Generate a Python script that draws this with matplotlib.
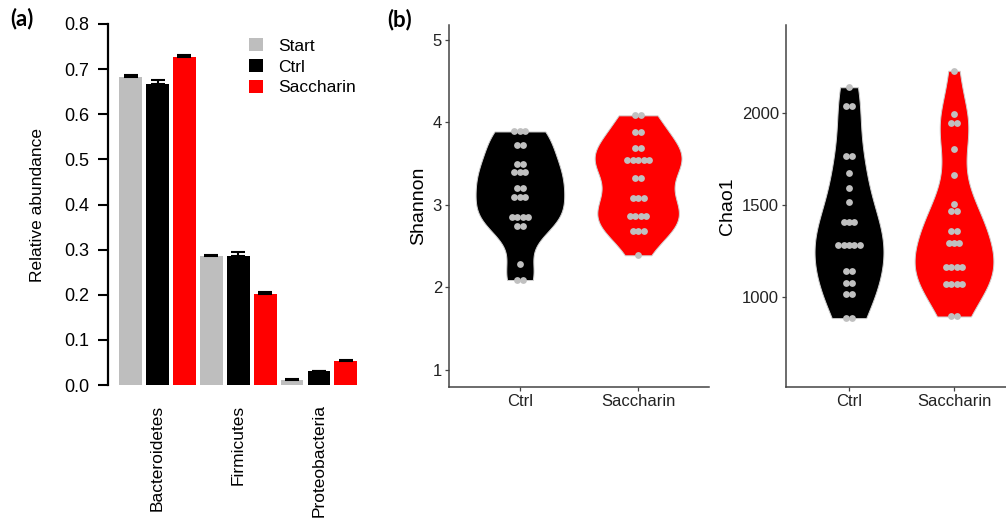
import numpy as np
import matplotlib
matplotlib.use('Agg')
import matplotlib.pyplot as plt

plt.rcParams['font.family'] = ['Liberation Sans', 'DejaVu Sans']

# (a) relative abundance of phyla
phyla = ['Bacteroidetes', 'Firmicutes', 'Proteobacteria']
groups = ['Start', 'Ctrl', 'Saccharin']
start_mean = [0.683, 0.286, 0.011]
start_err = [0.003, 0.003, 0.0015]
ctrl_mean = [0.668, 0.286, 0.030]
ctrl_err = [0.007, 0.008, 0.002]
sacch_mean = [0.727, 0.201, 0.054]
sacch_err = [0.005, 0.005, 0.002]
bar_colors = ['#bebebe', '#000000', '#ff0000']

# (b) alpha diversity, one value per dot
shannon_ctrl = [3.89, 3.89, 3.89, 3.73, 3.73, 3.50, 3.50, 3.40, 3.40, 3.40,
                3.21, 3.21, 3.10, 3.10, 3.10, 2.85, 2.85, 2.85, 2.85,
                2.75, 2.75, 2.29, 2.09, 2.09]
shannon_sacch = [4.085, 4.085, 3.88, 3.88, 3.685, 3.685,
                 3.55, 3.55, 3.55, 3.55, 3.55, 3.33, 3.33,
                 3.08, 3.08, 3.08, 2.86, 2.86, 2.86, 2.86,
                 2.69, 2.69, 2.69, 2.39]
chao_ctrl = [2142, 2042, 2042, 1769, 1769, 1673, 1596, 1518,
             1411, 1411, 1411, 1283, 1283, 1283, 1283, 1283,
             1142, 1142, 1078, 1078, 1016, 1016, 885, 885]
chao_sacch = [2232, 1996, 1945, 1945, 1804, 1662, 1509, 1469, 1469,
              1360, 1360, 1296, 1296, 1296, 1163, 1163, 1163, 1163,
              1073, 1073, 1073, 1073, 894, 894]
treatments = ['Ctrl', 'Saccharin']
violin_colors = ['#000000', '#ff0000']


def kde(vals):
    # gaussian density, bandwidth like R's bw.nrd0, trimmed to data range
    v = np.asarray(vals, float)
    n = len(v)
    sd = v.std(ddof=1)
    q75, q25 = np.percentile(v, [75, 25])
    bw = 0.9 * min(sd, (q75 - q25) / 1.34) * n ** -0.2
    y = np.linspace(v.min(), v.max(), 300)
    d = np.exp(-0.5 * ((y[:, None] - v[None, :]) / bw) ** 2).sum(1) / (n * bw * np.sqrt(2 * np.pi))
    return y, d


def dot_offsets(vals, step):
    v = np.asarray(vals, float)
    xs = np.zeros(len(v))
    for u in np.unique(v):
        idx = np.where(v == u)[0]
        k = len(idx)
        xs[idx] = (np.arange(k) - (k - 1) / 2) * step
    return xs


def violin_panel(ax, data, step, ylim, yticks, ylabel):
    dens = [kde(d) for d in data]
    dmax = max(d.max() for _, d in dens)
    for i, ((y, d), vals) in enumerate(zip(dens, data)):
        pos = i + 1
        half = d / dmax * 0.375
        ax.fill_betweenx(y, pos - half, pos + half, facecolor=violin_colors[i],
                         edgecolor='#cfcfcf', linewidth=0.7, zorder=2)
        ax.scatter(pos + dot_offsets(vals, step), vals, s=24, color='#c0c0c0',
                   linewidths=0, zorder=3)
    ax.set_xlim(0.4, 2.6)
    ax.set_ylim(*ylim)
    ax.set_yticks(yticks)
    ax.set_xticks([1, 2])
    ax.set_xticklabels(treatments)
    ax.set_ylabel(ylabel, fontsize=14, labelpad=4)
    for s in ['top', 'right']:
        ax.spines[s].set_visible(False)
    for s in ['left', 'bottom']:
        ax.spines[s].set_color('#444444')
        ax.spines[s].set_linewidth(1.1)
    ax.tick_params(length=3, width=0.9, color='#444444', labelsize=12,
                   labelcolor='#222222', pad=2)


fig = plt.figure(figsize=(10.06, 5.25), dpi=100)

# ---- panel (a)
ax = fig.add_axes([108 / 1006, 140 / 525, 254 / 1006, 361 / 525])
x = np.arange(9)
means = [start_mean, ctrl_mean, sacch_mean]
errs = [start_err, ctrl_err, sacch_err]
handles = []
for g in range(3):
    pos = x[g::3]
    b = ax.bar(pos, means[g], width=0.85, color=bar_colors[g], zorder=2)
    ax.errorbar(pos, means[g], yerr=[np.zeros(3), errs[g]], fmt='none',
                ecolor='black', elinewidth=1.5, capsize=5, capthick=1.5, zorder=3)
    handles.append(b)
ax.set_xlim(-0.84, 8.6)
ax.set_ylim(0, 0.8)
ax.set_yticks(np.arange(0, 0.81, 0.1))
ax.set_yticklabels(['%.1f' % t for t in np.arange(0, 0.81, 0.1)])
ax.set_xticks(x[1::3])
ax.set_xticklabels(phyla, rotation=90, fontsize=12.5)
ax.tick_params(axis='x', length=0, pad=14)
ax.tick_params(axis='y', length=7.5, width=1.5, labelsize=13, pad=6)
for s in ['top', 'right', 'bottom']:
    ax.spines[s].set_visible(False)
ax.spines['left'].set_linewidth(1.6)
ax.set_ylabel('Relative abundance', fontsize=12.5, labelpad=14)
ax.legend(handles, groups, loc='upper left', bbox_to_anchor=(249 / 1006, 1 - 38 / 525),
          bbox_transform=fig.transFigure, frameon=False, fontsize=12.5,
          handlelength=0.8, handleheight=0.8, handletextpad=0.9,
          labelspacing=0.3, borderpad=0, borderaxespad=0)

# ---- panel (b)
ax1 = fig.add_axes([449 / 1006, 138 / 525, 260 / 1006, 362 / 525])
violin_panel(ax1, [shannon_ctrl, shannon_sacch], 0.046, (0.794, 5.18),
             [1, 2, 3, 4, 5], 'Shannon')
ax2 = fig.add_axes([786 / 1006, 138 / 525, 231 / 1006, 362 / 525])
violin_panel(ax2, [chao_ctrl, chao_sacch], 0.052, (510, 2481),
             [1000, 1500, 2000], 'Chao1')

fig.text(10 / 1006, 1 - 19 / 525, '(a)', fontsize=16, fontweight='bold',
         family=['Lato', 'DejaVu Sans'], va='center', ha='left')
fig.text(387 / 1006, 1 - 20 / 525, '(b)', fontsize=16, fontweight='bold',
         family=['Lato', 'DejaVu Sans'], va='center', ha='left')

fig.savefig('out.png', dpi=100)
